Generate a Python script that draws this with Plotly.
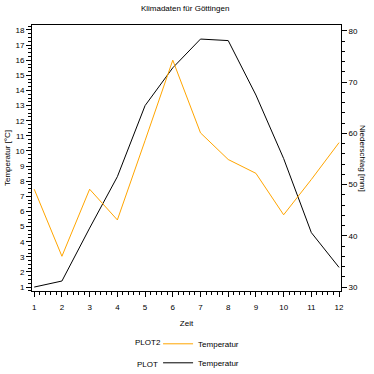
import plotly.graph_objects as go

# Data
monate = [1, 2, 3, 4, 5, 6, 7, 8, 9, 10, 11, 12]
temperatur = [1.0, 1.4, 4.9, 8.3, 13.0, 15.5, 17.4, 17.3, 13.7, 9.5, 4.6, 2.3]
niederschlag = [49.1, 36.0, 49.1, 43.1, 58.6, 74.3, 60.1, 54.9, 52.2, 44.1, 51.0, 58.2]
legend_labels = ["PLOT2", "PLOT"]
series_name = "Temperatur"

FONT = "Liberation Sans, Arial, sans-serif"

fig = go.Figure()
fig.add_trace(go.Scatter(
    x=monate, y=niederschlag, mode="lines", name=series_name,
    line=dict(color="#FFA500", width=1), yaxis="y2", legendgroup="a", showlegend=True,
))
fig.add_trace(go.Scatter(
    x=monate, y=temperatur, mode="lines", name=series_name,
    line=dict(color="black", width=1), yaxis="y", legendgroup="b", showlegend=True,
))

axis_common = dict(
    showgrid=False, zeroline=False, showline=True, linecolor="black", linewidth=1,
    ticks="outside", ticklen=5, tickcolor="black", tickwidth=1, automargin=False,
    tickfont=dict(family=FONT, size=8, color="black"),
)

fig.update_layout(
    width=374, height=374,
    margin=dict(l=32, r=33, t=25, b=83, autoexpand=False),
    paper_bgcolor="white", plot_bgcolor="white",
    font=dict(family=FONT, size=8, color="black"),
    showlegend=True,
    hovermode=False,
    title=dict(text="Klimadaten für Göttingen", x=0.495, xanchor="center",
               xref="container", yref="container",
               y=0.985, yanchor="top", font=dict(family=FONT, size=8)),
    xaxis=dict(
        **axis_common, range=[0.92, 12.07], tickmode="linear", tick0=1, dtick=1,
        mirror=True, ticklabelstandoff=3,
        minor=dict(ticks="outside", ticklen=3, dtick=0.2, tick0=1, tickcolor="black"),
        title=dict(text="Zeit", font=dict(family=FONT, size=8), standoff=9),
    ),
    yaxis=dict(
        **axis_common, range=[0.74, 18.33], tickmode="linear", tick0=1, dtick=1,
        minor=dict(ticks="outside", ticklen=3, dtick=0.25, tick0=1, tickcolor="black"),
        title=dict(text="Temperatur [°C]", font=dict(family=FONT, size=8), standoff=3),
    ),
    yaxis2=dict(
        **axis_common, range=[29.22, 81.17], tickmode="linear", tick0=30, dtick=10,
        overlaying="y", side="right",
        minor=dict(ticks="outside", ticklen=3, dtick=2, tick0=30, tickcolor="black"),
    ),
    legend=dict(
        x=0.408, y=-0.144, xanchor="left", yanchor="top", orientation="v",
        font=dict(family=FONT, size=8), bgcolor="rgba(0,0,0,0)",
        tracegroupgap=9, traceorder="normal",
    ),
    annotations=[
        dict(text="Niederschlag [mm]", textangle=90, xref="paper", yref="paper",
             x=1.0, xshift=22, y=0.5, showarrow=False,
             font=dict(family=FONT, size=8), xanchor="center", yanchor="middle"),
        dict(text=legend_labels[0], xref="paper", yref="paper",
             x=(133 - 32) / 309, y=(291 - 342.7) / 266, showarrow=False,
             xanchor="left", yanchor="middle", font=dict(family=FONT, size=8)),
        dict(text=legend_labels[1], xref="paper", yref="paper",
             x=(135 - 32) / 309, y=(291 - 364) / 266, showarrow=False,
             xanchor="left", yanchor="middle", font=dict(family=FONT, size=8)),
    ],
)

fig.write_html("out.html", post_script="document.body.style.margin='0';",
               config={"displayModeBar": False, "staticPlot": True})
